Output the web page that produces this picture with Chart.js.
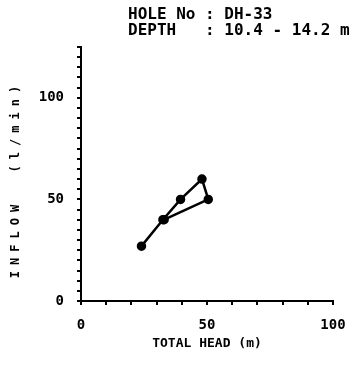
<html>
<head>
<style>
  body { margin: 0; background: #fff; }
  #wrap { position: relative; width: 362px; height: 382px; }
</style>
</head>
<body>
<div id="wrap"><canvas id="c" width="362" height="382"></canvas></div>
<script src="https://cdn.jsdelivr.net/npm/chart.js@4.4.0/dist/chart.umd.min.js"></script>
<script>
    // values
    var totalHead = [24, 32.5, 39.5, 48, 50.5, 33];
    var inflow = [27, 40, 50, 60, 50, 40];
    var titleLines = ['HOLE No : DH-33', 'DEPTH   : 10.4 - 14.2 m'];
    var xTitle = 'TOTAL HEAD (m)';
    var yTitle = 'INFLOW  (l/min)';

    var FONT = "'DejaVu Sans Mono', monospace";

    var points = totalHead.map(function (x, i) { return {x: x, y: inflow[i]}; });

    const headerPlugin = {
        id: 'header',
        beforeDraw(chart) {
            const ctx = chart.ctx;
            ctx.save();
            ctx.fillStyle = '#fff';
            ctx.fillRect(0, 0, chart.width, chart.height);
            ctx.restore();
        },
        afterDraw(chart) {
            const ctx = chart.ctx;
            ctx.save();
            ctx.fillStyle = '#000';
            ctx.font = 'bold 16px ' + FONT;
            ctx.textBaseline = 'middle';
            ctx.textAlign = 'left';
            ctx.fillText(titleLines[0], 128, 15);
            ctx.fillText(titleLines[1], 128, 31);
            ctx.restore();

            // y title, spread out like the scan
            ctx.save();
            ctx.fillStyle = '#000';
            ctx.font = 'bold 12px ' + FONT;
            ctx.letterSpacing = '6px';
            ctx.textBaseline = 'middle';
            ctx.textAlign = 'center';
            ctx.translate(16, 182);
            ctx.rotate(-Math.PI / 2);
            ctx.fillText(yTitle, 3, 0);
            ctx.restore();
        }
    };

    function every50(v) {
        return v % 50 === 0 ? String(v) : '';
    }

    new Chart(document.getElementById('c'), {
        type: 'scatter',
        data: {
            datasets: [{
                data: points,
                showLine: true,
                borderColor: '#000',
                backgroundColor: '#000',
                borderWidth: 2.5,
                pointRadius: 3.5,
                pointHoverRadius: 3.5,
            }]
        },
        options: {
            responsive: false,
            animation: false,
            layout: {padding: {top: 47, right: 29, left: 0, bottom: 0}},
            plugins: {legend: {display: false}, tooltip: {enabled: false}},
            scales: {
                x: {
                    min: 0, max: 100,
                    border: {color: '#000', width: 2},
                    grid: {drawOnChartArea: false, color: '#000', tickLength: 4, lineWidth: 2},
                    ticks: {
                        stepSize: 10, autoSkip: false, maxRotation: 0,
                        color: '#000', padding: 12,
                        font: {family: FONT, size: 14, weight: 'bold'},
                        callback: every50
                    },
                    title: {
                        display: true, text: xTitle, color: '#000',
                        font: {family: FONT, size: 13, weight: 'bold'},
                        padding: {top: 0, bottom: 31}
                    },
                    afterFit(scale) { scale.height = 81; }
                },
                y: {
                    min: 0, max: 125,
                    border: {color: '#000', width: 2},
                    grid: {drawOnChartArea: false, color: '#000', tickLength: 4, lineWidth: 2},
                    ticks: {
                        stepSize: 5, autoSkip: false,
                        color: '#000', padding: 13,
                        font: {family: FONT, size: 14, weight: 'bold'},
                        callback: every50
                    },
                    afterFit(scale) { scale.width = 81; }
                }
            }
        },
        plugins: [headerPlugin]
    });
</script>
</body>
</html>
